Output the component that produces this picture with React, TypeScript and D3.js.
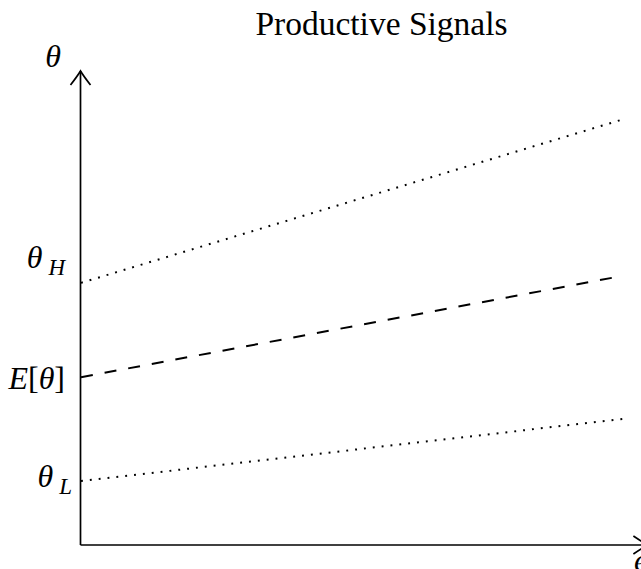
import * as d3 from "d3";

const W = 641;
const H = 569;

// effort e runs 0..1 along the drawn lines; theta in arbitrary units 0..10
const effort = [0, 1];
const thetaHigh = [5.53, 8.98];
const thetaMean = [3.54, 5.68];
const thetaLow = [1.35, 2.66];

const SERIES = [
  { key: "high", values: thetaHigh, dash: "1.9 7.0" },
  { key: "mean", values: thetaMean, dash: "12 12" },
  { key: "low", values: thetaLow, dash: "1.9 7.0" },
];

// y-axis tick labels (value = vertical centre of the glyph)
const yTickValues = [6.07, 3.51, 1.445];
const yTickNames = ["high", "mean", "low"];

const TITLE = "Productive Signals";
const FONT = "'Liberation Serif', 'Times New Roman', serif";

const x = d3.scaleLinear().domain([0, 1]).range([81, 623]);
const y = d3.scaleLinear().domain([0, 10]).range([545, 71]);

function arrowUp(tx: number, ty: number) {
  return `M${tx - 10},${ty + 14} Q${tx - 3},${ty + 5} ${tx},${ty} Q${tx + 3},${ty + 5} ${tx + 10},${ty + 14}`;
}
function arrowRight(tx: number, ty: number) {
  return `M${tx - 14},${ty - 9} Q${tx - 5},${ty - 3} ${tx},${ty} Q${tx - 5},${ty + 3} ${tx - 14},${ty + 9}`;
}

function TickLabel({ name, yy }: { name: string; yy: number }) {
  const base = yy + 10.5;
  if (name === "mean") {
    return (
      <text x={65} y={base} textAnchor="end" fontSize={32} fontFamily={FONT}>
        <tspan fontStyle="italic">E</tspan>
        <tspan>[</tspan>
        <tspan fontStyle="italic">θ</tspan>
        <tspan>]</tspan>
      </text>
    );
  }
  const sub = name === "high" ? "H" : "L";
  const right = name === "high" ? 65 : 72;
  return (
    <text x={right} y={base} textAnchor="end" fontSize={32} fontFamily={FONT} fontStyle="italic">
      θ
      <tspan dx={6} dy={7} fontSize={23}>
        {sub}
      </tspan>
    </text>
  );
}

export default function App() {
  const line = d3
    .line<number>()
    .x((_, i) => x(effort[i]))
    .y((d) => y(d));

  const x0 = x(0) - 0.5;
  const yBase = y(0);
  const xEnd = x(1.045);
  const yTop = y(10);

  return (
    <svg
      width={W}
      height={H}
      viewBox={`0 0 ${W} ${H}`}
      style={{ position: "absolute", left: 0, top: 0, display: "block", background: "#fff" }}
    >
      <text x={381.5} y={35} textAnchor="middle" fontSize={33.5} fontFamily={FONT}>
        {TITLE}
      </text>

      {SERIES.map((s) => (
        <path
          key={s.key}
          d={line(s.values) ?? ""}
          fill="none"
          stroke="#000"
          strokeWidth={2}
          strokeDasharray={s.dash}
        />
      ))}

      {/* axes */}
      <line x1={x0} x2={x0} y1={yBase} y2={yTop} stroke="#000" strokeWidth={1.7} />
      <line x1={x0} x2={xEnd} y1={yBase} y2={yBase} stroke="#000" strokeWidth={1.7} />
      <path d={arrowUp(x0, yTop)} fill="none" stroke="#000" strokeWidth={1.7} />
      <path d={arrowRight(xEnd, yBase)} fill="none" stroke="#000" strokeWidth={1.7} />

      <text x={53} y={67} textAnchor="middle" fontSize={32} fontFamily={FONT} fontStyle="italic">
        θ
      </text>
      <text x={634} y={571} fontSize={32} fontFamily={FONT} fontStyle="italic">
        e
      </text>

      {yTickValues.map((v, i) => (
        <TickLabel key={yTickNames[i]} name={yTickNames[i]} yy={y(v)} />
      ))}
    </svg>
  );
}
